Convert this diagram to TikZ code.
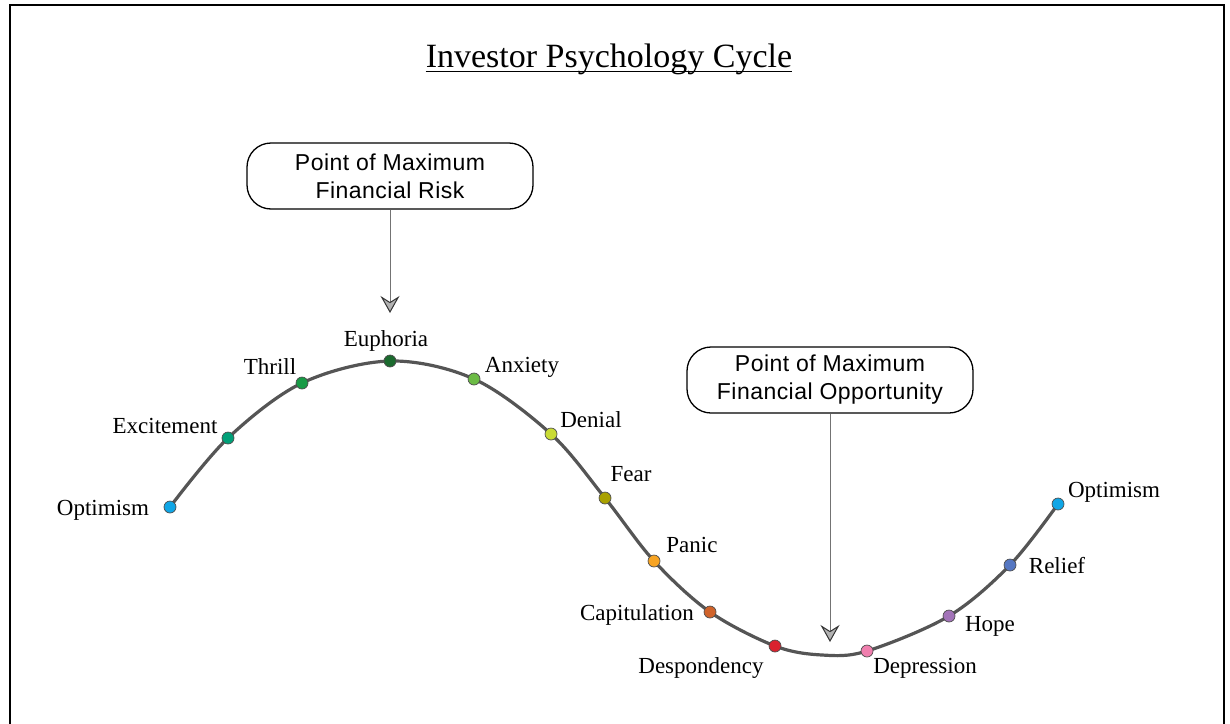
\documentclass[tikz,border=0pt]{standalone}
\usepackage{fontspec}
\setmainfont{Liberation Serif}
\newfontfamily\boxfont[LetterSpace=2]{Liberation Sans}
\usetikzlibrary{arrows.meta}
\definecolor{cOpt}{HTML}{10A6E6}
\definecolor{cExc}{HTML}{00A078}
\definecolor{cThr}{HTML}{179A45}
\definecolor{cEup}{HTML}{1B6A2E}
\definecolor{cAnx}{HTML}{6CBB45}
\definecolor{cDen}{HTML}{C9DB35}
\definecolor{cFea}{HTML}{A9A100}
\definecolor{cPan}{HTML}{F7A423}
\definecolor{cCap}{HTML}{D0632A}
\definecolor{cDes}{HTML}{D9222E}
\definecolor{cDep}{HTML}{F07FAE}
\definecolor{cHop}{HTML}{A273B8}
\definecolor{cRel}{HTML}{5577C2}
\definecolor{curvegray}{HTML}{555555}
\tikzset{
  dot/.style={circle, draw=black!70, line width=0.7pt, inner sep=0pt, minimum size=12pt},
  lab/.style={font=\fontsize{23}{27}\selectfont, anchor=base, inner sep=0pt},
  callout/.style={draw=black, line width=1.3pt, rounded corners=24pt, minimum width=286pt, minimum height=66pt, align=center, font=\boxfont\fontsize{23}{28}\selectfont, inner sep=0pt},
  pointer/.style={draw=black!55, line width=1pt, -{Stealth[length=17pt, width=19pt, inset=6pt, fill=black!30, color=black!80, line width=1pt]}}
}
\begin{document}
\begin{tikzpicture}[x=1pt, y=-1pt]
\useasboundingbox (0,0) rectangle (1230,723);
% frame
\draw[line width=2pt] (10,730) -- (10,5) -- (1224,5) -- (1224,730);
% title
\node[font=\fontsize{34}{40}\selectfont, anchor=base, inner sep=0pt] (title) at (609,67) {Investor Psychology Cycle};
\draw[line width=1.8pt] ([yshift=-4.5pt]title.base west) -- ([yshift=-4.5pt]title.base east);
% curve coordinates
\coordinate (c1) at (170,507);
\coordinate (c2) at (228,438);
\coordinate (c3) at (302,383);
\coordinate (c4) at (390,361);
\coordinate (c5) at (474,379);
\coordinate (c6) at (551,434);
\coordinate (c7) at (605,498);
\coordinate (c8) at (654,561);
\coordinate (c9) at (710,612);
\coordinate (c10) at (775,646);
\coordinate (cmin) at (822,655);
\coordinate (c11) at (867,651);
\coordinate (c12) at (949,616);
\coordinate (c13) at (1010,565);
\coordinate (c14) at (1058,504);
\draw[curvegray, line width=3.2pt, line cap=round] plot[smooth, tension=0.55] coordinates {(c1) (c2) (c3) (c4) (c5) (c6) (c7) (c8) (c9) (c10) (cmin) (c11) (c12) (c13) (c14)};
% dots
\node[dot, fill=cOpt] (d1) at (c1) {};
\node[dot, fill=cExc] (d2) at (c2) {};
\node[dot, fill=cThr] (d3) at (c3) {};
\node[dot, fill=cEup] (d4) at (c4) {};
\node[dot, fill=cAnx] (d5) at (c5) {};
\node[dot, fill=cDen] (d6) at (c6) {};
\node[dot, fill=cFea] (d7) at (c7) {};
\node[dot, fill=cPan] (d8) at (c8) {};
\node[dot, fill=cCap] (d9) at (c9) {};
\node[dot, fill=cDes] (d10) at (c10) {};
\node[dot, fill=cDep] (d11) at (c11) {};
\node[dot, fill=cHop] (d12) at (c12) {};
\node[dot, fill=cRel] (d13) at (c13) {};
\node[dot, fill=cOpt] (d14) at (c14) {};
% labels
\node[lab] (l1) at (103,515) {Optimism};
\node[lab] (l2) at (165,433) {Excitement};
\node[lab] (l3) at (270,374) {Thrill};
\node[lab] (l4) at (386,346) {Euphoria};
\node[lab] (l5) at (522,372) {Anxiety};
\node[lab] (l6) at (591,427) {Denial};
\node[lab] (l7) at (631,481) {Fear};
\node[lab] (l8) at (692,552) {Panic};
\node[lab] (l9) at (637,620) {Capitulation};
\node[lab] (l10) at (701,673) {Despondency};
\node[lab] (l11) at (925,673) {Depression};
\node[lab] (l12) at (990,631) {Hope};
\node[lab] (l13) at (1057,573) {Relief};
\node[lab] (l14) at (1114,497) {Optimism};
% callouts
\node[callout] (b1) at (390,176) {Point of Maximum\\Financial Risk};
\node[callout] (b2) at (830,380) {Point of Maximum\\Financial Opportunity};
\coordinate (t1) at (390,313);
\coordinate (t2) at (830,642);
\draw[pointer] (b1.south) -- (t1);
\draw[pointer] (b2.south) -- (t2);
\end{tikzpicture}
\end{document}
